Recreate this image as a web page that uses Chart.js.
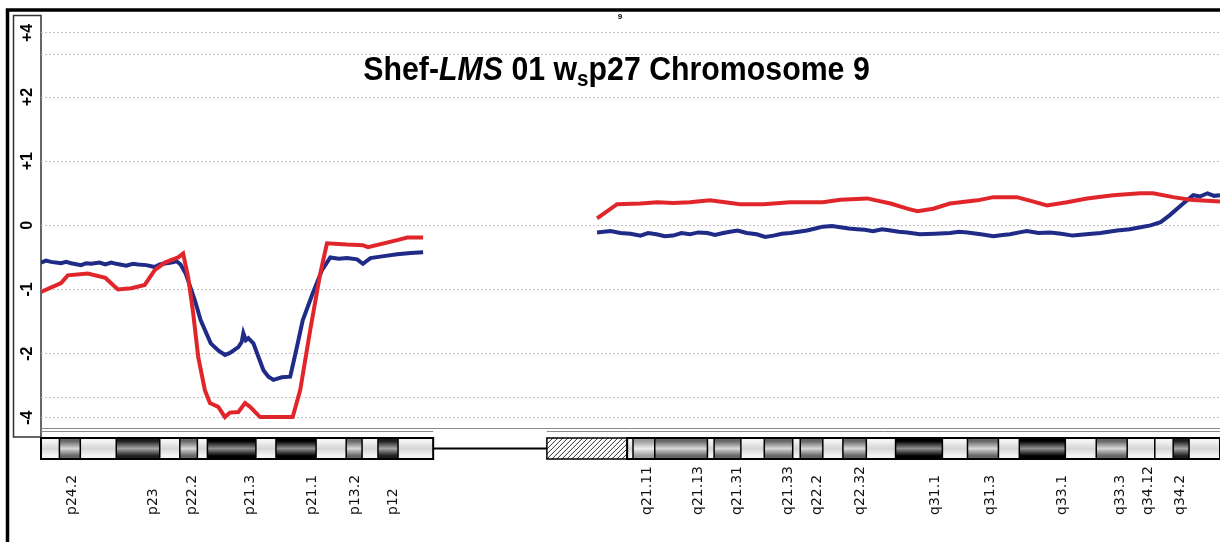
<!DOCTYPE html>
<html>
<head>
<meta charset="utf-8">
<title>Chromosome 9 copy number</title>
<script src="https://cdn.jsdelivr.net/npm/chart.js@4.4.0/dist/chart.umd.min.js"></script>
<style>
  html, body { margin: 0; padding: 0; background: #fff; overflow: hidden; }
  #wrap { position: relative; width: 1220px; height: 542px; }
</style>
</head>
<body>
<div id="wrap"><canvas id="cnChart" width="1220" height="542"></canvas></div>
<script>
// =======================================================
// DATA  (x = position on chr9 in Mb, y = plotted ratio)
// =======================================================

// y axis: tick positions and what they are labelled with
const yTickPos = [3, 2.67, 2, 1, 0, -1, -2, -2.69, -3];
const yTickText = ['+4', '', '+2', '+1', '0', '-1', '-2', '', '-4'];

// blue trace, p arm then q arm
const blueP = [
  [0.0, -0.58], [0.6, -0.55], [1.2, -0.57], [2.4, -0.59], [3.0, -0.57], [3.6, -0.59],
  [4.8, -0.62], [5.4, -0.59], [6.0, -0.60], [7.0, -0.58], [7.7, -0.61], [8.4, -0.58],
  [9.0, -0.60], [10.2, -0.63], [11.0, -0.60], [11.6, -0.61], [12.6, -0.62], [13.6, -0.65],
  [14.2, -0.61], [14.6, -0.60], [15.6, -0.58], [16.2, -0.56], [16.7, -0.61], [17.3, -0.75],
  [18.4, -1.17], [19.1, -1.48], [20.3, -1.84], [21.2, -1.95], [22.0, -2.02], [22.6, -1.99],
  [23.6, -1.90], [24.0, -1.82], [24.2, -1.68], [24.5, -1.79], [24.8, -1.76], [25.4, -1.84],
  [26.0, -2.05], [26.6, -2.26], [27.2, -2.36], [27.8, -2.41], [28.8, -2.37], [29.8, -2.36],
  [30.6, -1.90], [31.3, -1.48], [32.5, -1.06], [33.6, -0.70], [34.6, -0.50], [35.6, -0.52],
  [36.6, -0.51], [37.8, -0.53], [38.5, -0.60], [39.4, -0.51], [41.0, -0.48], [42.6, -0.45],
  [44.2, -0.43], [45.7, -0.42]
];
const blueQ = [
  [66.5, -0.11], [68.1, -0.09], [69.3, -0.12], [70.5, -0.13], [71.7, -0.16], [72.6, -0.12],
  [73.6, -0.14], [74.6, -0.17], [75.6, -0.16], [76.6, -0.12], [77.6, -0.14], [78.6, -0.11],
  [79.7, -0.12], [80.6, -0.15], [81.6, -0.12], [82.4, -0.10], [83.3, -0.08], [84.4, -0.12],
  [85.6, -0.14], [86.6, -0.18], [87.6, -0.16], [88.6, -0.13], [89.6, -0.12], [90.6, -0.10],
  [91.6, -0.08], [92.6, -0.05], [93.5, -0.02], [94.6, -0.01], [95.6, -0.03], [96.6, -0.05],
  [97.6, -0.06], [98.5, -0.07], [99.5, -0.09], [100.6, -0.06], [101.6, -0.08], [102.6, -0.10],
  [103.6, -0.11], [105.1, -0.14], [106.9, -0.13], [108.7, -0.12], [109.8, -0.10], [110.8, -0.11],
  [112.4, -0.14], [113.9, -0.17], [115.0, -0.15], [115.9, -0.14], [117.0, -0.11], [117.9, -0.09],
  [119.3, -0.12], [120.7, -0.11], [122.0, -0.13], [123.4, -0.16], [125.0, -0.14], [126.7, -0.12],
  [127.7, -0.10], [128.7, -0.08], [130.2, -0.06], [131.5, -0.03], [132.7, 0.00], [133.9, 0.05],
  [135.0, 0.16], [136.6, 0.34], [137.8, 0.47], [138.6, 0.45], [139.5, 0.50], [140.3, 0.46],
  [141.0, 0.47]
];

// red trace, p arm then q arm
const redP = [
  [0.0, -1.04], [2.4, -0.90], [3.2, -0.78], [5.6, -0.75], [7.7, -0.82], [9.2, -1.00],
  [10.8, -0.98], [12.4, -0.93], [13.6, -0.70], [14.8, -0.58], [16.4, -0.50], [17.0, -0.44],
  [17.6, -0.81], [18.2, -1.37], [18.8, -2.05], [19.6, -2.57], [20.2, -2.77], [21.2, -2.83],
  [22.0, -2.99], [22.6, -2.92], [23.6, -2.91], [24.4, -2.77], [25.0, -2.83], [26.2, -2.99],
  [30.1, -2.99], [31.0, -2.57], [32.2, -1.63], [33.4, -0.75], [34.2, -0.28], [36.6, -0.30],
  [38.5, -0.31], [39.1, -0.34], [42.6, -0.23], [43.8, -0.19], [45.7, -0.19]
];
const redQ = [
  [66.5, 0.11], [68.9, 0.33], [71.7, 0.34], [73.7, 0.36], [75.6, 0.35], [77.6, 0.36],
  [80.0, 0.39], [81.8, 0.36], [83.6, 0.33], [86.4, 0.33], [89.6, 0.36], [93.5, 0.36],
  [95.6, 0.40], [98.8, 0.42], [101.6, 0.34], [103.6, 0.26], [104.8, 0.22], [106.7, 0.26],
  [108.7, 0.34], [112.0, 0.39], [113.9, 0.44], [116.7, 0.44], [118.7, 0.37], [120.3, 0.31],
  [122.7, 0.36], [125.1, 0.42], [128.2, 0.47], [131.5, 0.50], [133.0, 0.50], [135.4, 0.44],
  [137.4, 0.40], [141.0, 0.37]
];

// ideogram: band edges (Mb) and stain (0 = gneg ... 100 = gpos100)
const pBandEdges = [0, 2.2, 4.7, 9.0, 14.2, 16.6, 18.7, 19.9, 25.7, 28.1, 32.9, 36.5, 38.4, 40.3, 42.7, 46.9];
const pBandStain = [0, 50, 0, 75, 0, 50, 0, 100, 0, 100, 0, 50, 0, 75, 0];
const qBandEdges = [70.1, 70.8, 73.4, 79.7, 80.5, 83.7, 86.5, 89.9, 90.8, 93.5, 95.9, 98.7, 102.2,
  107.8, 110.8, 114.5, 117.0, 122.5, 126.2, 129.9, 133.2, 135.4, 137.3, 141.0];
const qBandStain = [0, 25, 50, 0, 50, 0, 50, 0, 50, 0, 50, 0, 100, 0, 50, 0, 100, 0, 50, 0, 0, 75, 0];
const heteroStart = 60.5;   // hatched block (q12)

// band names written under the ideogram, and where
const bandNames = ['p24.2', 'p23', 'p22.2', 'p21.3', 'p21.1', 'p13.2', 'p12',
  'q21.11', 'q21.13', 'q21.31', 'q21.33', 'q22.2', 'q22.32', 'q31.1', 'q31.3',
  'q33.1', 'q33.3', 'q34.12', 'q34.2'];
const bandNamePos = [3.8, 13.4, 18.1, 25.0, 32.4, 37.6, 42.1,
  72.5, 78.6, 83.3, 89.4, 92.8, 98.0, 106.9, 113.5,
  122.2, 129.1, 132.4, 136.2];

// =======================================================
// HELPERS
// =======================================================

const gapPoint = { x: 56, y: null };
const toPts = (arr) => arr.map(([x, y]) => ({ x, y }));

function stainColors(level) {
  if (level === 0) return ['#f4f4f4', '#d6d6d6'];
  if (level <= 25) return ['#9c9c9c', '#ececec'];
  if (level <= 50) return ['#666666', '#d8d8d8'];
  if (level <= 75) return ['#1e1e1e', '#a6a6a6'];
  return ['#000000', '#909090'];
}

function drawArm(ctx, xs, edges, stains, top, bot) {
  for (let i = 0; i < stains.length; i++) {
    const x0 = xs.getPixelForValue(edges[i]);
    const x1 = xs.getPixelForValue(edges[i + 1]);
    const [edge, mid] = stainColors(stains[i]);
    const g = ctx.createLinearGradient(0, top, 0, bot);
    g.addColorStop(0, edge);
    g.addColorStop(0.15, edge);
    g.addColorStop(0.5, mid);
    g.addColorStop(0.85, edge);
    g.addColorStop(1, edge);
    ctx.fillStyle = g;
    ctx.fillRect(x0, top, x1 - x0, bot - top);
  }
  ctx.strokeStyle = '#000';
  ctx.lineWidth = 1.5;
  for (let i = 1; i < edges.length - 1; i++) {
    const x = xs.getPixelForValue(edges[i]);
    ctx.beginPath();
    ctx.moveTo(x, top);
    ctx.lineTo(x, bot);
    ctx.stroke();
  }
  const a = xs.getPixelForValue(edges[0]);
  const b = xs.getPixelForValue(edges[edges.length - 1]);
  ctx.lineWidth = 2;
  ctx.strokeRect(a, top, b - a, bot - top);
}

// =======================================================
// PLUGINS
// =======================================================

const framePlugin = {
  id: 'frame',
  beforeDraw(chart) {
    const { ctx } = chart;
    ctx.save();
    ctx.fillStyle = '#fff';
    ctx.fillRect(0, 0, chart.width, chart.height);
    // outer black frame
    ctx.strokeStyle = '#000';
    ctx.lineWidth = 3.5;
    ctx.beginPath();
    ctx.moveTo(7.5, chart.height + 2);
    ctx.lineTo(7.5, 10);
    ctx.lineTo(chart.width + 2, 10);
    ctx.stroke();
    // box round the y labels
    ctx.lineWidth = 1.5;
    ctx.strokeStyle = '#333';
    ctx.strokeRect(13.5, 15.5, chart.chartArea.left - 13.5, 421.5);
    ctx.restore();
  }
};

const overlayPlugin = {
  id: 'overlay',
  afterDraw(chart) {
    const { ctx, chartArea } = chart;
    const xs = chart.scales.x;
    ctx.save();

    // plot bottom edge
    ctx.strokeStyle = '#8a8a8a';
    ctx.lineWidth = 1;
    ctx.beginPath();
    ctx.moveTo(chartArea.left, chartArea.bottom + 0.5);
    ctx.lineTo(chartArea.right, chartArea.bottom + 0.5);
    ctx.stroke();
    const pEnd = xs.getPixelForValue(pBandEdges[pBandEdges.length - 1]);
    const hetX = xs.getPixelForValue(heteroStart);
    ctx.beginPath();
    ctx.moveTo(chartArea.left, 431.5);
    ctx.lineTo(pEnd, 431.5);
    ctx.moveTo(hetX, 431.5);
    ctx.lineTo(chartArea.right, 431.5);
    ctx.stroke();

    // title
    const size = 30;
    const parts = [
      { t: 'Shef-', f: `bold ${size}px "Liberation Sans", Arial` },
      { t: 'LMS', f: `italic bold ${size}px "Liberation Sans", Arial` },
      { t: ' 01 w', f: `bold ${size}px "Liberation Sans", Arial` },
      { t: 's', f: `bold ${size * 0.68}px "Liberation Sans", Arial`, dy: 6 },
      { t: 'p27 Chromosome 9', f: `bold ${size}px "Liberation Sans", Arial` }
    ];
    let total = 0;
    parts.forEach((p) => { ctx.font = p.f; p.w = ctx.measureText(p.t).width; total += p.w; });
    let tx = 614 - total / 2;
    ctx.fillStyle = '#000';
    ctx.textBaseline = 'alphabetic';
    ctx.textAlign = 'left';
    parts.forEach((p) => {
      ctx.font = p.f;
      ctx.save();
      ctx.translate(tx, 80 + (p.dy || 0));
      ctx.scale(1.01, 1.12);
      ctx.fillText(p.t, 0, 0);
      ctx.restore();
      tx += p.w * 1.01;
    });

    // chromosome number at the very top
    ctx.font = 'bold 8px "Liberation Sans", Arial';
    ctx.textAlign = 'center';
    ctx.fillText('9', 620, 19);

    // ideogram
    const top = 438, bot = 459;
    drawArm(ctx, xs, pBandEdges, pBandStain, top, bot);

    // centromere stalk
    ctx.strokeStyle = '#000';
    ctx.lineWidth = 2;
    ctx.beginPath();
    ctx.moveTo(pEnd, 448.5);
    ctx.lineTo(hetX, 448.5);
    ctx.stroke();

    // hatched heterochromatin block
    const hetEnd = xs.getPixelForValue(qBandEdges[0]);
    ctx.save();
    ctx.beginPath();
    ctx.rect(hetX, top, hetEnd - hetX, bot - top);
    ctx.clip();
    ctx.fillStyle = '#fff';
    ctx.fillRect(hetX, top, hetEnd - hetX, bot - top);
    ctx.strokeStyle = '#333';
    ctx.lineWidth = 1;
    for (let x = hetX - 30; x < hetEnd + 5; x += 5) {
      ctx.beginPath();
      ctx.moveTo(x, bot);
      ctx.lineTo(x + (bot - top), top);
      ctx.stroke();
    }
    ctx.restore();
    ctx.strokeStyle = '#000';
    ctx.lineWidth = 1.5;
    ctx.strokeRect(hetX, top, hetEnd - hetX, bot - top);

    drawArm(ctx, xs, qBandEdges, qBandStain, top, bot);

    // band names, reading upwards
    ctx.fillStyle = '#111';
    ctx.font = '14px "DejaVu Sans", Verdana, sans-serif';
    ctx.textAlign = 'left';
    ctx.textBaseline = 'middle';
    bandNames.forEach((name, i) => {
      const x = xs.getPixelForValue(bandNamePos[i]);
      ctx.save();
      ctx.translate(x, 515);
      ctx.rotate(-Math.PI / 2);
      ctx.fillText(name, 0, 0);
      ctx.restore();
    });

    ctx.restore();
  }
};

// =======================================================
// CHART
// =======================================================

const ctx = document.getElementById('cnChart');

new Chart(ctx, {
  type: 'line',
  data: {
    datasets: [
      {
        label: 'red',
        data: [...toPts(redP), gapPoint, ...toPts(redQ)],
        borderColor: '#e1262b',
        borderWidth: 4,
        pointRadius: 0,
        spanGaps: false
      },
      {
        label: 'blue',
        data: [...toPts(blueP), gapPoint, ...toPts(blueQ)],
        borderColor: '#1f2b87',
        borderWidth: 4,
        pointRadius: 0,
        spanGaps: false
      }
    ]
  },
  options: {
    responsive: false,
    animation: false,
    devicePixelRatio: 1,
    layout: { padding: { top: 15, bottom: 114, left: 0, right: 0 } },
    plugins: {
      legend: { display: false },
      tooltip: { enabled: false }
    },
    scales: {
      x: {
        type: 'linear',
        min: 0,
        max: 141,
        display: false
      },
      y: {
        min: -3.16,
        max: 3.28,
        afterFit: (s) => { s.width = 41; },
        afterBuildTicks: (s) => { s.ticks = yTickPos.map((v) => ({ value: v })); },
        ticks: {
          autoSkip: false,
          minRotation: 90,
          maxRotation: 90,
          crossAlign: 'center',
          padding: 4,
          color: '#000',
          font: { family: '"Liberation Sans", Arial', size: 16, weight: 'bold' },
          callback: (v, i) => yTickText[i]
        },
        grid: { drawTicks: false, color: '#c4c4c4', lineWidth: 1 },
        border: { display: false, dash: [2, 2] }
      }
    }
  },
  plugins: [framePlugin, overlayPlugin]
});
</script>
</body>
</html>
